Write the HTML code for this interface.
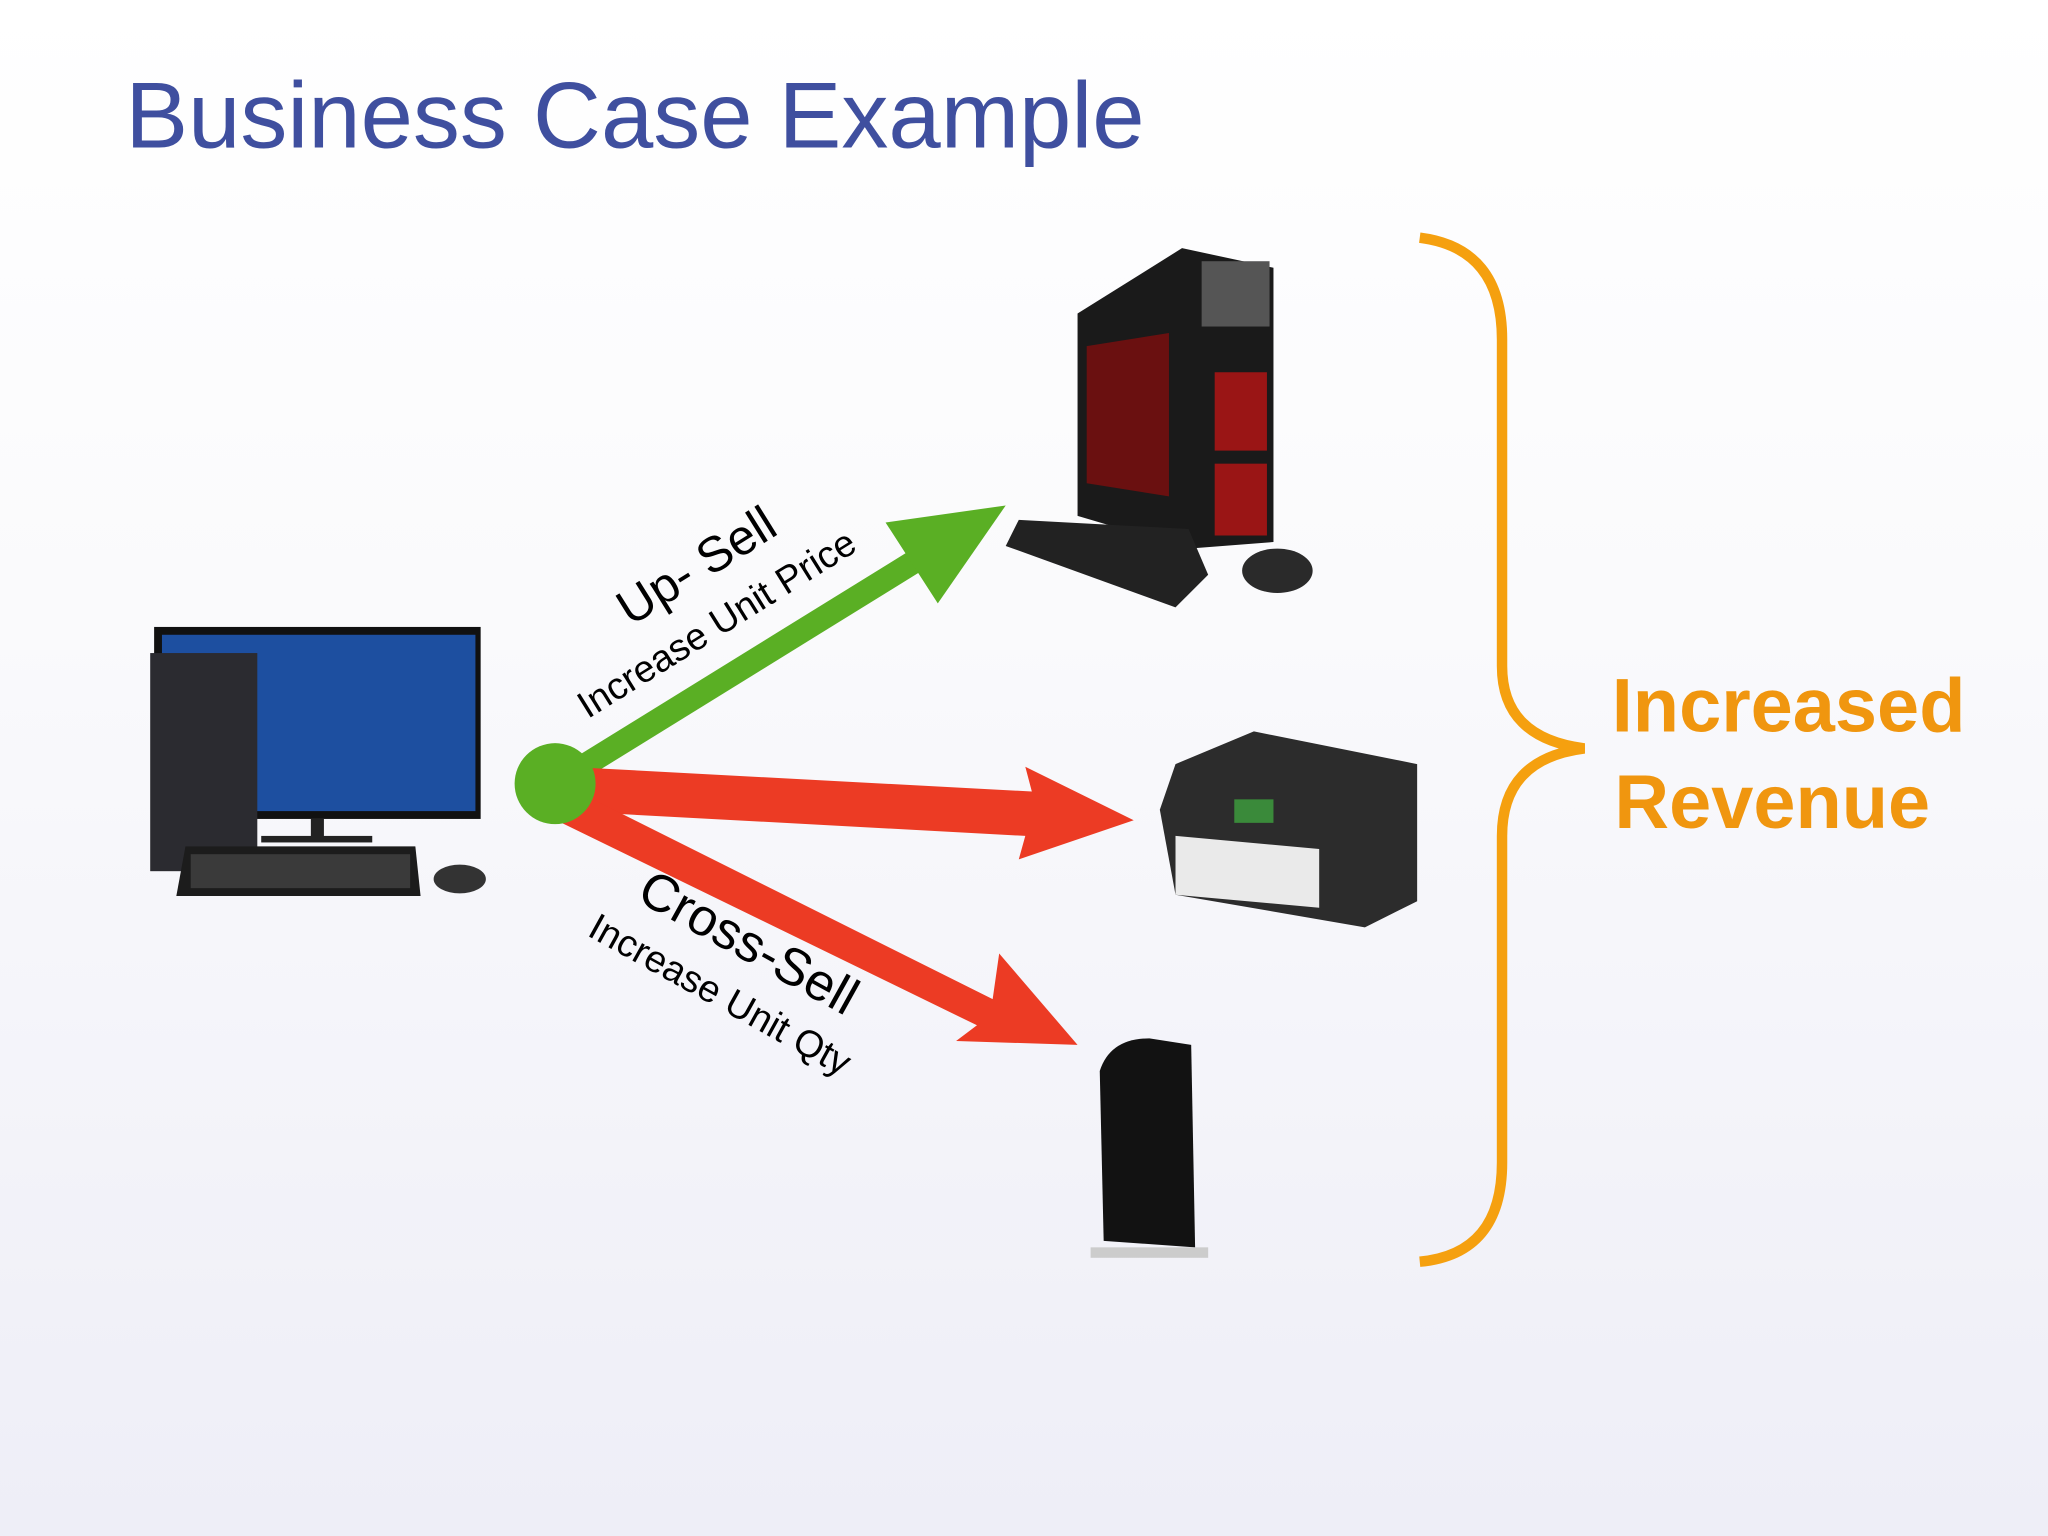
<!DOCTYPE html>
<html><head><style>
html,body{margin:0;padding:0;width:2048px;height:1536px;overflow:hidden}
body{background:linear-gradient(#ffffff 0%,#fafafc 40%,#eeeef7 100%)}
svg{display:block}
</style></head><body>
<svg width="2048" height="1536" viewBox="0 0 1568 1176" xmlns="http://www.w3.org/2000/svg" font-family="'Liberation Sans',sans-serif">
<text x="96" y="113" font-size="72" fill="#3f4f9f">Business Case Example</text>

<!-- Desktop -->
<rect x="118" y="480" width="250" height="147" fill="#111"/>
<rect x="124" y="486" width="240" height="135" fill="#1d4fa0"/>
<rect x="115" y="500" width="82" height="167" fill="#2b2b30"/>
<rect x="238" y="627" width="10" height="14" fill="#222"/>
<rect x="200" y="640" width="85" height="5" fill="#222"/>
<polygon points="142,648 318,648 322,686 135,686" fill="#1c1c1c"/>
<rect x="146" y="654" width="168" height="26" fill="#3a3a3a"/>
<ellipse cx="352" cy="673" rx="20" ry="11" fill="#333"/>

<!-- Gaming PC -->
<polygon points="825,240 905,190 975,205 975,415 910,420 825,395" fill="#1a1a1a"/>
<rect x="920" y="200" width="52" height="50" fill="#555"/>
<rect x="930" y="285" width="40" height="60" fill="#9a1515"/>
<rect x="930" y="355" width="40" height="55" fill="#9a1515"/>
<polygon points="832,265 895,255 895,380 832,370" fill="#6a1010"/>
<polygon points="780,398 910,405 925,440 900,465 770,418" fill="#222"/>
<ellipse cx="978" cy="437" rx="27" ry="17" fill="#2a2a2a"/>

<!-- Printer -->
<polygon points="900,585 960,560 1085,585 1085,690 1045,710 900,685 888,620" fill="#2c2c2c"/>
<polygon points="900,640 1010,650 1010,695 900,685" fill="#eaeaea"/>
<rect x="945" y="612" width="30" height="18" fill="#3a8a3a"/>

<!-- Router -->
<path d="M842,820 Q850,795 880,795 L912,800 L915,955 L845,950 Z" fill="#121212"/>
<rect x="835" y="955" width="90" height="8" fill="#ccc"/>

<!-- Arrows -->
<line x1="425" y1="600" x2="700" y2="430" stroke="#5aaf24" stroke-width="18"/>
<polygon points="770,387 678,400 718,462" fill="#5aaf24"/>
<polygon points="452,588 790,606 785,587 868,628 780,658 785,640 452,622" fill="#ec3b24"/>
<polygon points="440,605 760,765 765,730 825,800 732,797 748,785 430,630" fill="#ec3b24"/>
<circle cx="425" cy="600" r="31" fill="#5aaf24"/>

<!-- Labels -->
<text transform="translate(533,433) rotate(-32)" font-size="38" text-anchor="middle" dominant-baseline="central" fill="#000">Up- Sell</text>
<text transform="translate(549,478) rotate(-32)" font-size="29" text-anchor="middle" dominant-baseline="central" fill="#000">Increase Unit Price</text>
<text transform="translate(573,722) rotate(29)" font-size="40" text-anchor="middle" dominant-baseline="central" fill="#000">Cross-Sell</text>
<text transform="translate(551,762) rotate(29)" font-size="29" text-anchor="middle" dominant-baseline="central" fill="#000">Increase Unit Qty</text>

<!-- Brace -->
<path d="M1087,182 Q1150,190 1150,260 L1150,510 Q1150,565 1213,573 Q1150,581 1150,640 L1150,890 Q1150,960 1087,966" fill="none" stroke="#f5a00f" stroke-width="8"/>

<text x="1234" y="560" font-size="58" font-weight="bold" fill="#f0960f">Increased</text>
<text x="1236" y="634" font-size="58" font-weight="bold" fill="#f0960f">Revenue</text>
</svg>
</body></html>
